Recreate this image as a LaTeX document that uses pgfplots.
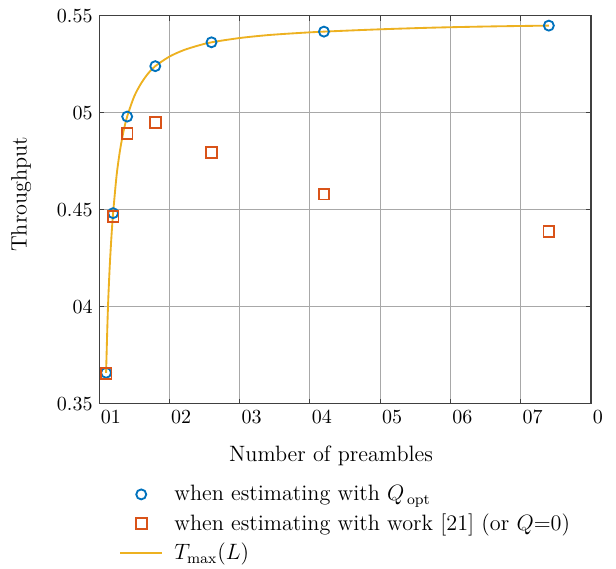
\documentclass[border=0pt]{standalone}
\usepackage{pgfplots}
\pgfplotsset{compat=1.18}
\definecolor{mblue}{HTML}{0072BD}
\definecolor{morange}{HTML}{D95319}
\definecolor{myellow}{HTML}{EDB120}
\definecolor{axgray}{HTML}{404040}
\definecolor{gridgray}{HTML}{A8A8A8}
\pgfplotsset{
  markleg/.style={legend image code/.code={\draw[##1] plot coordinates {(0.4cm,0cm)};}},
  lineleg/.style={legend image code/.code={\draw[##1] (0cm,0cm) -- (0.8cm,0cm);}},
}

\begin{document}
\begin{tikzpicture}
  \begin{axis}[
      name=ax,
      scale only axis,
      width=265.7pt, height=209.5pt,
      xmin=10, xmax=80,
      ymin=0.35, ymax=0.55,
      xtick={10,20,...,80},
      xticklabels={01,02,03,04,05,06,07,0},
      ytick={0.35,0.4,0.45,0.5,0.55},
      yticklabels={0.35,04,0.45,05,0.55},
      tick label style={font=\fontsize{10.8}{12}\selectfont},
      xticklabel style={anchor=north west, xshift=-2.5pt},
      label style={font=\fontsize{12}{14}\selectfont},
      grid=major,
      major grid style={draw=gridgray, line width=0.6pt},
      axis line style={draw=axgray, line width=0.6pt},
      tick style={draw=axgray, line width=0.6pt},
      tick align=inside,
      major tick length=2.7pt,
      xlabel={Number of preambles},
      ylabel={Throughput},
      xlabel style={at={(ticklabel cs:0.4715,5pt)}},
      ylabel style={at={(ticklabel cs:0.54,7pt)}},
      legend style={at={(0.029,-0.19)}, anchor=north west, draw=none,
        fill=none, legend cell align=left, row sep=1.5pt,
        font=\fontsize{12}{14}\selectfont,
        /tikz/every odd column/.append style={column sep=4pt}},
    ]
    % Q_opt estimates
    \addplot[only marks, mark=o, mark size=2.7pt, draw=mblue, line width=1pt, markleg]
      coordinates {
        (11,0.3660)(12,0.4483)(14,0.4981)(18,0.5241)
        (26,0.5364)(42,0.5419)(74,0.5450)
      };
    % work [21], Q = 0
    \addplot[only marks, mark=square, mark size=2.9pt, draw=morange, line width=1pt, markleg]
      coordinates {
        (11,0.3655)(12,0.4466)(14,0.4895)(18,0.4950)
        (26,0.4795)(42,0.4581)(74,0.4390)
      };
    % T_max(L)
    \addplot[myellow, line width=1pt, smooth, lineleg]
      coordinates {
        (11,0.3660)(11.25,0.3979)(11.5,0.4195)(11.75,0.4355)(12,0.4483)
        (12.5,0.4679)(13,0.4811)(13.5,0.4908)(14,0.4981)(15,0.5085)
        (16,0.5153)(17,0.5204)(18,0.5241)(20,0.5290)(22,0.5323)
        (24,0.5346)(26,0.5364)(30,0.5386)(34,0.5401)(38,0.5411)
        (42,0.5419)(50,0.5431)(58,0.5440)(66,0.5446)(74,0.5450)
      };
    \legend{when estimating with $Q_{\,\mathrm{opt}}$,
      when estimating with work [21] (or $Q{=}0$),
      $T_{\max}(L)$}
  \end{axis}
  \pgfresetboundingbox
  \path ([shift={(-53.5pt,-89.1pt)}]ax.south west)
    rectangle ([shift={(13.5pt,8.6pt)}]ax.north east);
\end{tikzpicture}
\end{document}
